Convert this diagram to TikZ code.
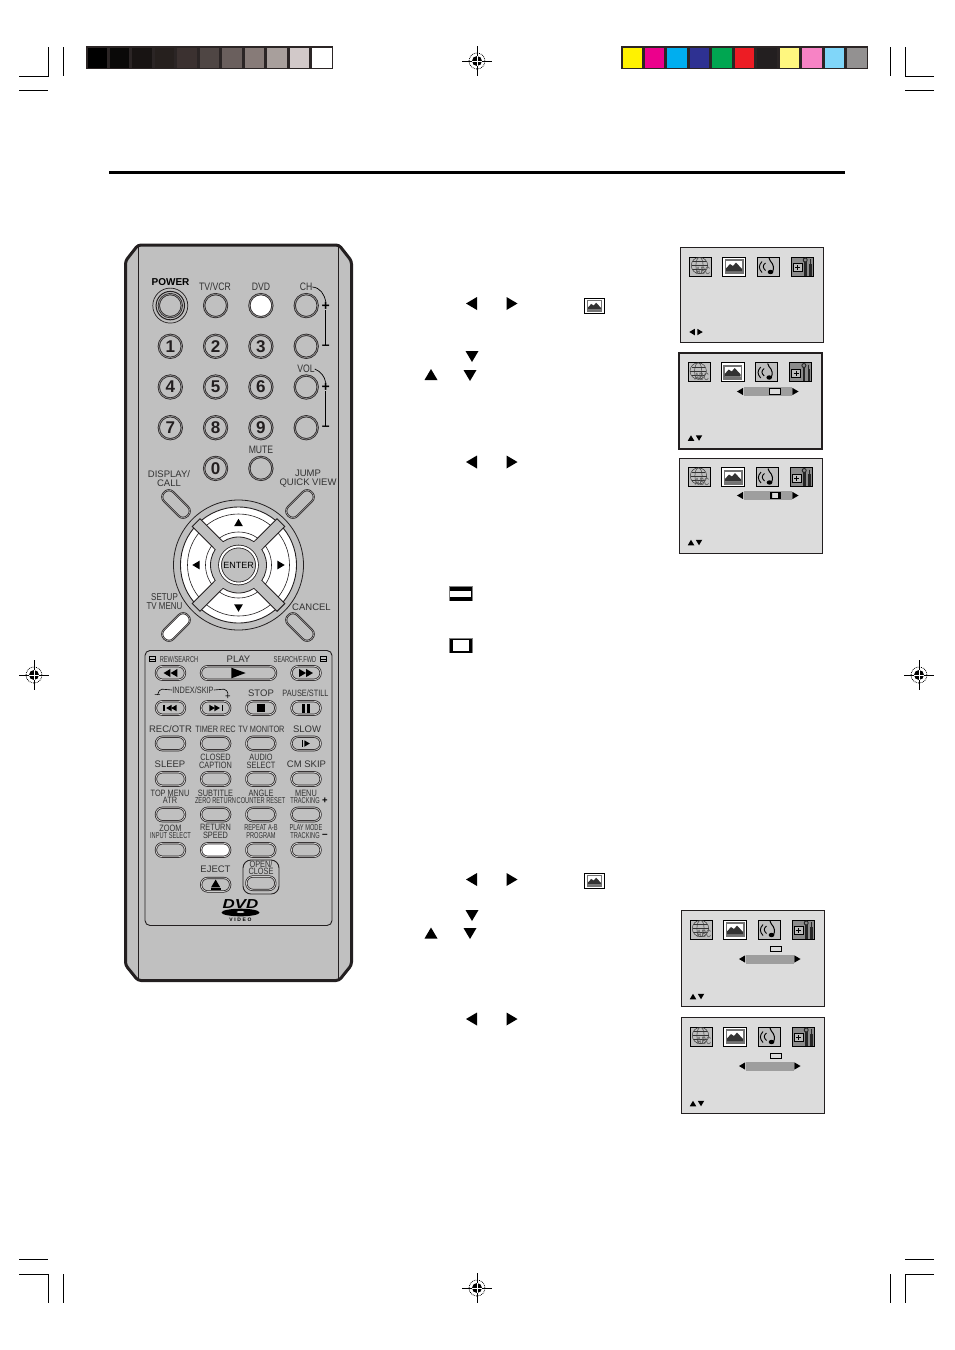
\documentclass[tikz,border=0pt]{standalone}
\usepackage{fontspec}
\setmainfont{Liberation Sans}
\newfontfamily\narrowfont[FakeStretch=0.8]{Liberation Sans}
\newfontfamily\tightfont[FakeStretch=0.66]{Liberation Sans}
\newfontfamily\logofont[FakeStretch=1.3]{Liberation Sans}
\usetikzlibrary{matrix, calc, positioning}
\definecolor{remotegray}{RGB}{192,192,192}
\definecolor{screengray}{RGB}{220,220,220}
\definecolor{icongray}{RGB}{190,190,190}
\definecolor{inkdark}{RGB}{35,31,32}
\definecolor{labelgray}{RGB}{50,50,50}
\definecolor{barframe}{RGB}{43,37,37}
\tikzset{
	rlabel/.style={font=\fontsize{9.5}{9}\selectfont, text=labelgray, align=center, inner sep=0pt},
	nlabel/.style={font=\narrowfont\fontsize{10.8}{9}\selectfont, text=labelgray, align=center, inner sep=0pt},
	slabel/.style={font=\narrowfont\fontsize{9.2}{7.4}\selectfont, text=labelgray, align=center, inner sep=0pt},
	tlabel/.style={font=\tightfont\fontsize{8.6}{7.4}\selectfont, text=labelgray, align=center, inner sep=0pt},
	signlabel/.style={font=\bfseries\fontsize{14}{14}\selectfont, inner sep=0pt},
	patch/.style={minimum width=19.5pt, minimum height=20pt, inner sep=0pt, outer sep=0pt, anchor=center},
	keybtn/.style={circle, draw=inkdark, double=black!45, line width=.7pt, double distance=.8pt, minimum size=23pt, inner sep=0pt, anchor=center, font=\bfseries\fontsize{17}{17}\selectfont, text=inkdark},
	ovalbtn/.style={draw=inkdark, double=black!20, line width=.7pt, double distance=.8pt, rounded corners=6.5pt, minimum width=29pt, minimum height=13.5pt, inner sep=0pt, anchor=center},
	tiltbtn/.style={draw=inkdark, double=black!35, line width=.7pt, double distance=.6pt, fill=remotegray, rounded corners=6pt, minimum width=33pt, minimum height=13pt, inner sep=0pt},
	screenbox/.style={draw=inkdark, fill=screengray},
	pics/tri/.style={code={\fill[black] (-5.5,-6.5) -- (5.5,0) -- (-5.5,6.5) -- cycle;}},
	pics/regmark/.style={code={
		\draw[line width=.7pt] (-15,0) -- (15,0) (0,-15) -- (0,15);
		\draw[line width=.8pt, densely dotted] (0,0) circle (8);
		\fill[black] (0,0) circle (5);
		\draw[white, line width=.8pt] (-5,0) -- (5,0) (0,-5) -- (0,5);
	}},
	pics/globeicon/.style={code={
		\draw[fill=icongray, line width=.9pt] (-11,-9.5) rectangle (11,9.5);
		\draw[line width=.45pt, black!80] (-1,-1) circle (8.2);
		\draw[line width=.45pt, black!80] (-1,-1) ellipse (3.6 and 8.2);
		\draw[line width=.45pt, black!80] (-9,-1) -- (7,-1) (-7.5,-5) -- (5.5,-5) (-7.5,3) -- (5.5,3);
		\node (abc) [font=\tightfont\fontsize{10.5}{10.5}\selectfont, text=black!65, inner sep=0pt] at (2.5,4.5) {ABC};
	}},
	pics/picicon/.style={code={
		\draw[fill=white, line width=1pt] (-11.5,-9.5) rectangle (11.5,9.5);
		\fill[black!55] (-9.5,-7.5) rectangle (9.5,7.5);
		\fill[white] (-8,-5.5) rectangle (8,4.5);
		\fill[black!80] (-8,4.5) -- (-8,2) -- (-4,-2.5) -- (-1,-.5) -- (2,-4) -- (8,2.5) -- (8,4.5) -- cycle;
	}},
	pics/noteicon/.style={code={
		\draw[fill=icongray, line width=.9pt] (-11,-9.5) rectangle (11,9.5);
		\draw[line width=.9pt] (-6,-5) .. controls (-9.5,-1) and (-9.5,2) .. (-6,6);
		\draw[line width=.9pt] (-2.5,-3.5) .. controls (-5.5,-1) and (-5.5,1) .. (-2.5,4);
		\draw[line width=1pt] (1,-8.5) .. controls (1.5,-4) and (8,-3) .. (4.5,5.5);
		\fill[black] (2.5,5.5) ellipse (2.8 and 2.2);
	}},
	pics/toolicon/.style={code={
		\draw[fill=black!45, line width=.9pt] (-11,-9.5) rectangle (11,9.5);
		\draw[fill=icongray, line width=.5pt] (-9,-3) rectangle (0,5);
		\draw[line width=.8pt] (-7,1) -- (-2,1) (-4.5,-1.5) -- (-4.5,3.5);
		\fill[black!85] (2,-5) rectangle (4.5,9);
		\fill[black!85] (7,-3) rectangle (9.5,9);
		\draw[black!85, line width=.9pt] (3.2,-6.5) circle (2);
		\draw[black!85, line width=.9pt] (8.2,-7.5) -- (8.2,-3);
	}},
	pics/widetv/.style={code={
		\fill[black!50] (-12,-7.5) rectangle (12,7.5);
		\fill[black] (-11,-7) rectangle (11,7);
		\fill[white] (-10.5,-3) rectangle (10.5,3);
	}},
	pics/normaltv/.style={code={
		\fill[black!50] (-12,-7.5) rectangle (12,7.5);
		\fill[black] (-11,-7) rectangle (11,7);
		\fill[white] (-8,-5.5) rectangle (8,5.5);
	}},
	pics/miniwide/.style={code={\draw[line width=1pt, fill=screengray] (-5.5,-2.7) rectangle (5.5,2.7);}},
	pics/mininormal/.style={code={
		\draw[line width=.8pt, fill=screengray] (-5,-3) rectangle (5,3);
		\fill[black] (-5,-3) rectangle (-3,3) (3,-3) rectangle (5,3);
	}},
	pics/dirglyph/.style={code={
		\draw[line width=.6pt] (-3,-2.5) rectangle (3,2.5);
		\draw[line width=.8pt] (-3,0) -- (3,0);
	}},
}
\begin{document}
\begin{tikzpicture}[x=1pt,y=-1pt]
	\useasboundingbox (0,0) rectangle (954,1350);
	%
	% print bars
	\matrix (graybar) [matrix of nodes, ampersand replacement=\&, fill=barframe, inner sep=1.5pt, column sep=2.95pt, nodes={patch}] at (209.5,57.5) {
		|[fill=black]|{} \& |[fill={rgb,255:red,10;green,9;blue,8}]|{} \& |[fill={rgb,255:red,24;green,20;blue,19}]|{} \& |[fill={rgb,255:red,38;green,32;blue,30}]|{} \& |[fill={rgb,255:red,59;green,49;blue,48}]|{} \& |[fill={rgb,255:red,79;green,70;blue,68}]|{} \& |[fill={rgb,255:red,106;green,95;blue,93}]|{} \& |[fill={rgb,255:red,135;green,123;blue,120}]|{} \& |[fill={rgb,255:red,168;green,159;blue,156}]|{} \& |[fill={rgb,255:red,210;green,201;blue,201}]|{} \& |[fill=white]|{} \\
	};
	\matrix (colorbar) [matrix of nodes, ampersand replacement=\&, fill=barframe, inner sep=1.5pt, column sep=2.95pt, nodes={patch}] at (744.5,57.5) {
		|[fill={rgb,255:red,255;green,242;blue,0}]|{} \& |[fill={rgb,255:red,236;green,0;blue,140}]|{} \& |[fill={rgb,255:red,0;green,174;blue,239}]|{} \& |[fill={rgb,255:red,46;green,49;blue,146}]|{} \& |[fill={rgb,255:red,0;green,166;blue,81}]|{} \& |[fill={rgb,255:red,237;green,28;blue,36}]|{} \& |[fill={rgb,255:red,35;green,31;blue,32}]|{} \& |[fill={rgb,255:red,255;green,247;blue,127}]|{} \& |[fill={rgb,255:red,247;green,131;blue,197}]|{} \& |[fill={rgb,255:red,128;green,214;blue,249}]|{} \& |[fill={rgb,255:red,147;green,145;blue,145}]|{} \\
	};
	%
	% crop marks
	\draw[line width=.8pt] (19,76) -- (48,76) -- (48,47) (63,47) -- (63,76) (19,90.5) -- (48,90.5);
	\draw[line width=.8pt] (934,76) -- (905,76) -- (905,47) (890,47) -- (890,76) (934,90.5) -- (905,90.5);
	\draw[line width=.8pt] (19,1274) -- (48,1274) -- (48,1303) (63,1274) -- (63,1303) (19,1259.5) -- (48,1259.5);
	\draw[line width=.8pt] (934,1274) -- (905,1274) -- (905,1303) (890,1274) -- (890,1303) (934,1259.5) -- (905,1259.5);
	\foreach \mx/\my in {477/61, 34/675, 919/675, 477/1288}
		\pic at (\mx,\my) {regmark};
	\draw[line width=3pt] (109,172.5) -- (845,172.5);
	%
	% remote body
	\draw[draw=inkdark, line width=3pt, fill=remotegray, rounded corners=3pt] (125.5,261) -- (138,245) -- (339,245) -- (351.5,261) -- (351.5,965) -- (339,980.5) -- (138,980.5) -- (125.5,965) -- cycle;
	\draw[draw=inkdark, line width=.7pt] (138.5,245) -- (138.5,980) (338.5,245) -- (338.5,980);
	%
	\matrix (keypad) [matrix of nodes, ampersand replacement=\&, column sep=20.1pt, row sep=15.5pt, nodes={keybtn}] at (238.25,387) {
		{} \& {} \& |[fill=white]|{} \& {} \\
		1 \& 2 \& 3 \& {} \\
		4 \& 5 \& 6 \& {} \\
		7 \& 8 \& 9 \& {} \\
		|[draw=none,double=none]|{} \& 0 \& {} \& |[draw=none,double=none]|{} \\
	};%
	\draw[draw=inkdark, line width=.7pt] (keypad-1-1) circle (17.5);
	\draw[draw=inkdark, line width=1pt] (keypad-1-1) circle (14.2);
	%
	\node (lblpower) [rlabel, text=black, font=\bfseries\fontsize{10}{10}\selectfont] at (170.5,282) {POWER};
	\node (lbltvvcr) [nlabel] at (215,287) {TV/VCR};
	\node (lbldvd) [nlabel] at (261,287) {DVD};
	\node (lblch) [nlabel] at (306,287) {CH};
	\node (lblvol) [nlabel] at (306,369) {VOL};
	\node (lblmute) [nlabel] at (261,450) {MUTE};
	\node (lbldisplay) [rlabel] at (169,478.5) {DISPLAY/\\CALL};
	\node (lbljump) [rlabel] at (308,478.5) {JUMP\\QUICK VIEW};
	\node (lblsetup) [rlabel, font=\narrowfont\fontsize{10}{9}\selectfont] at (164.5,602) {SETUP\\TV MENU};
	\node (lblcancel) [rlabel] at (311.5,607) {CANCEL};
	%
	\node (chplus) [signlabel] at (325.7,306) {+};
	\node (chminus) [signlabel] at (325.7,347) {–};
	\node (volplus) [signlabel] at (325.7,387) {+};
	\node (volminus) [signlabel] at (325.7,428) {–};
	\draw[line width=.8pt] (chplus.south) -- (chminus.north);
	\draw[line width=.8pt] (volplus.south) -- (volminus.north);
	\draw[line width=.7pt] (lblch.east) to[out=-5,in=100] (chplus.north);
	\draw[line width=.7pt] (lblvol.east) to[out=-25,in=100] (volplus.north);
	%
	\node (dispbtn) [tiltbtn, rotate=-45] at (176,504) {};
	\node (jumpbtn) [tiltbtn, rotate=45] at (300,504) {};
	\node (setupbtn) [tiltbtn, rotate=45, fill=white] at (176,627) {};
	\node (cancelbtn) [tiltbtn, rotate=-45] at (300,627) {};
	%
	% direction pad
	\begin{scope}[shift={(238.5,565)}]
		\draw[draw=inkdark, line width=.8pt] (0,0) circle (65);
		\draw[draw=inkdark, line width=.9pt, fill=white] (0,0) circle (58);
		\draw[draw=inkdark, line width=.6pt] (0,0) circle (51);
		\draw[draw=inkdark, line width=.6pt] (0,0) circle (33);
		\foreach \ang in {45,135,225,315}
			\draw[draw=inkdark, line width=.9pt, fill=remotegray, rotate=\ang] (22,-5.5) rectangle (60,5.5);
		\draw[draw=inkdark, line width=.8pt, fill=remotegray] (0,0) circle (28);
		\foreach \ang in {45,135,225,315}
			\fill[remotegray, rotate=\ang] (20,-5) rectangle (30,5);
		\pic[rotate=90, scale=.68] at (0,-42.5) {tri};
		\pic[rotate=-90, scale=.68] at (0,43) {tri};
		\pic[rotate=180, scale=.68] at (-42.5,0) {tri};
		\pic[scale=.68] at (42.5,0) {tri};
	\end{scope}
	\node (enter) [circle, draw=inkdark, double=white, line width=.8pt, double distance=2pt, fill=remotegray, minimum size=37pt, inner sep=0pt, font=\fontsize{9}{9}\selectfont, text=black] at (238.5,565) {ENTER};
	%
	% lower panel
	\draw[draw=inkdark, line width=.9pt, rounded corners=5pt] (145,650.5) rectangle (332,925.5);
	\matrix (panel) [matrix of nodes, ampersand replacement=\&, nodes in empty cells, column sep=14pt, row sep=19.8pt, nodes={ovalbtn}] at (238.25,779) {
		\& \& \& \\
		\& \& \& \\
		\& \& \& \\
		\& \& \& \\
		\& |[fill=white]| \& \& \\
	};%
	\node (rewbtn) [ovalbtn, above=20.8pt of panel-1-1] {};
	\node (fwdbtn) [ovalbtn, above=20.8pt of panel-1-4] {};
	\node (playbtn) [ovalbtn, minimum width=75pt] at (rewbtn -| 238.5,0) {};
	\node (ejectbtn) [ovalbtn, below=20.5pt of panel-5-2] {};
	\node (openbtn) [ovalbtn, below=19pt of panel-5-3] {};
	\draw[draw=inkdark, line width=.9pt, rounded corners=8pt] (243,860) rectangle (279,894);
	%
	\pic[shift={(-3.5,0)}, rotate=180, scale=.62] at (rewbtn) {tri};
	\pic[shift={(3.5,0)}, rotate=180, scale=.62] at (rewbtn) {tri};
	\pic[shift={(-3.5,0)}, scale=.62] at (fwdbtn) {tri};
	\pic[shift={(3.5,0)}, scale=.62] at (fwdbtn) {tri};
	\pic[xscale=1.3, yscale=.82] at (playbtn) {tri};
	\pic[shift={(-1.5,0)}, rotate=180, scale=.5] at (panel-1-1) {tri};
	\pic[shift={(3.5,0)}, rotate=180, scale=.5] at (panel-1-1) {tri};
	\fill ($(panel-1-1)+(-7.5,-3.3)$) rectangle +(1.6,6.6);
	\pic[shift={(-3.5,0)}, scale=.5] at (panel-1-2) {tri};
	\pic[shift={(1.5,0)}, scale=.5] at (panel-1-2) {tri};
	\fill ($(panel-1-2)+(5.9,-3.3)$) rectangle +(1.6,6.6);
	\fill ($(panel-1-3)+(-4.3,-4.3)$) rectangle +(8.6,8.6);
	\fill ($(panel-1-4)+(-3.8,-4.5)$) rectangle +(3,9);
	\fill ($(panel-1-4)+(.8,-4.5)$) rectangle +(3,9);
	\pic[shift={(1,0)}, scale=.5] at (panel-2-4) {tri};
	\fill ($(panel-2-4)+(-4.5,-3.3)$) rectangle +(1.5,6.6);
	\pic[shift={(0,-1.3)}, rotate=90, scale=.7] at (ejectbtn) {tri};
	\fill ($(ejectbtn)+(-5,3)$) rectangle +(10,2);
	%
	\foreach \lx/\ly/\lst/\ltxt [count=\i] in {
		170.5/729/rlabel/{REC/OTR}, 215.5/729/slabel/{TIMER REC}, 261.5/729/slabel/{TV MONITOR}, 307/729/rlabel/{SLOW},
		170/764/rlabel/{SLEEP}, 215.5/761.5/slabel/{CLOSED\\CAPTION}, 261/761.5/slabel/{AUDIO\\SELECT}, 306.5/764/rlabel/{CM SKIP},
		170/796.5/slabel/{TOP MENU\\ATR}, 215.5/793/slabel/{SUBTITLE}, 215.5/800.5/tlabel/{ZERO RETURN}, 261/793/slabel/{ANGLE}, 261/800.5/tlabel/{COUNTER RESET}, 306/793/slabel/{MENU}, 305/800.5/tlabel/{TRACKING},
		170.5/828/slabel/{ZOOM}, 170.5/835.5/tlabel/{INPUT SELECT}, 215.5/831.5/slabel/{RETURN\\SPEED}, 261/828/tlabel/{REPEAT A-B}, 261/835.5/tlabel/{PROGRAM}, 306/828/tlabel/{PLAY MODE}, 305/835.5/tlabel/{TRACKING},
		215.5/869/rlabel/{EJECT}, 261/867.5/slabel/{OPEN/\\CLOSE}, 179/659/tlabel/{REW/SEARCH}, 295/659/tlabel/{SEARCH/F.FWD},
		238.5/659/rlabel/{PLAY}, 261/693/rlabel/{STOP}, 305.5/693/slabel/{PAUSE/STILL}}
		\node (plabel-\i) [\lst] at (\lx,\ly) {\ltxt};
	\node (lblindex) [slabel] at (193,690) {INDEX/SKIP};
	\node (trplus) [font=\bfseries\fontsize{9.5}{9}\selectfont, inner sep=0pt] at (325,800.5) {+};
	\node (trminus) [font=\bfseries\fontsize{10}{9}\selectfont, inner sep=0pt] at (325,835.5) {–};
	\pic at (152.5,659) {dirglyph};
	\pic at (323.5,659) {dirglyph};
	\node (idxminus) [font=\fontsize{9.5}{9}\selectfont, inner sep=0pt] at (157.5,696.5) {–};
	\node (idxplus) [font=\fontsize{9.5}{9}\selectfont, inner sep=0pt] at (228,696.5) {+};
	\draw[line width=.6pt, rounded corners=2pt] (idxminus.north) -- (160,689) -- (lblindex.west);
	\draw[line width=.6pt, rounded corners=2pt] (idxplus.north) -- (226,689) -- (lblindex.east);
	%
	% logo
	\node (dvdlogo) [font=\logofont\bfseries\itshape\fontsize{13}{13}\selectfont, inner sep=0pt] at (240.5,904) {DVD};
	\fill[black] (240.5,912.5) ellipse (19 and 3.8);
	\fill[remotegray] (240.5,912) ellipse (4 and 1);
	\node (videotxt) [font=\bfseries\fontsize{5}{5}\selectfont, inner sep=0pt] at (240.5,919.5) {V\,\,I\,\,D\,\,E\,\,O};
	%
	% keys named in the text column
	\foreach \tx/\ty/\tang in {471.5/303.5/180, 512/303.5/0, 472/356.5/-90, 431/374.5/90, 470/375.5/-90, 471.5/462/180, 512/462/0, 471.5/879.5/180, 512/879.5/0, 472/915.5/-90, 431/933/90, 470/933.5/-90, 471.5/1019/180, 512/1019/0}
		\pic[rotate=\tang] at (\tx,\ty) {tri};
	\pic[scale=.83] at (594.5,306) {picicon};
	\pic[scale=.83] at (594.5,881) {picicon};
	\pic at (460.5,593.5) {widetv};
	\pic at (460.5,645.5) {normaltv};
	%
	% screens
	\foreach \sx/\sy/\sw/\sh in {680/247.5/.9/95, 678.7/353/1.8/96, 679/458/1/95, 681/910.5/1/95.5, 681/1017.5/1/95.5}{
		\begin{scope}[shift={(\sx,\sy)}]
			\draw[screenbox, line width=\sw pt] (0,0) rectangle (143,\sh);
			\pic at (20.5,19) {globeicon};
			\pic at (54,19) {picicon};
			\pic at (88,19) {noteicon};
			\pic at (122,19) {toolicon};
		\end{scope}
	}
	\pic[rotate=180, scale=.5] at (692,332) {tri};
	\pic[scale=.5] at (700,332) {tri};
	\foreach \ax/\ay in {691/438, 691/542.5, 693/996.5, 693/1103.5}{
		\pic[rotate=90, scale=.5] at (\ax,\ay) {tri};
		\pic[rotate=-90, scale=.5] at (\ax+8,\ay) {tri};
	}
	\foreach \bx/\by in {743.5/391.5, 743.5/495.5, 745.5/959, 745.5/1066}{
		\fill[black!38] (\bx,\by-4.5) rectangle (\bx+48.5,\by+4.5);
		\pic[rotate=180, scale=.55] at (\bx-3.5,\by) {tri};
		\pic[scale=.55] at (\bx+52,\by) {tri};
	}
	\pic at (774.5,391.5) {miniwide};
	\pic at (775,495.5) {mininormal};
	\pic at (776,949) {miniwide};
	\pic at (776,1056) {miniwide};
\end{tikzpicture}
\end{document}
